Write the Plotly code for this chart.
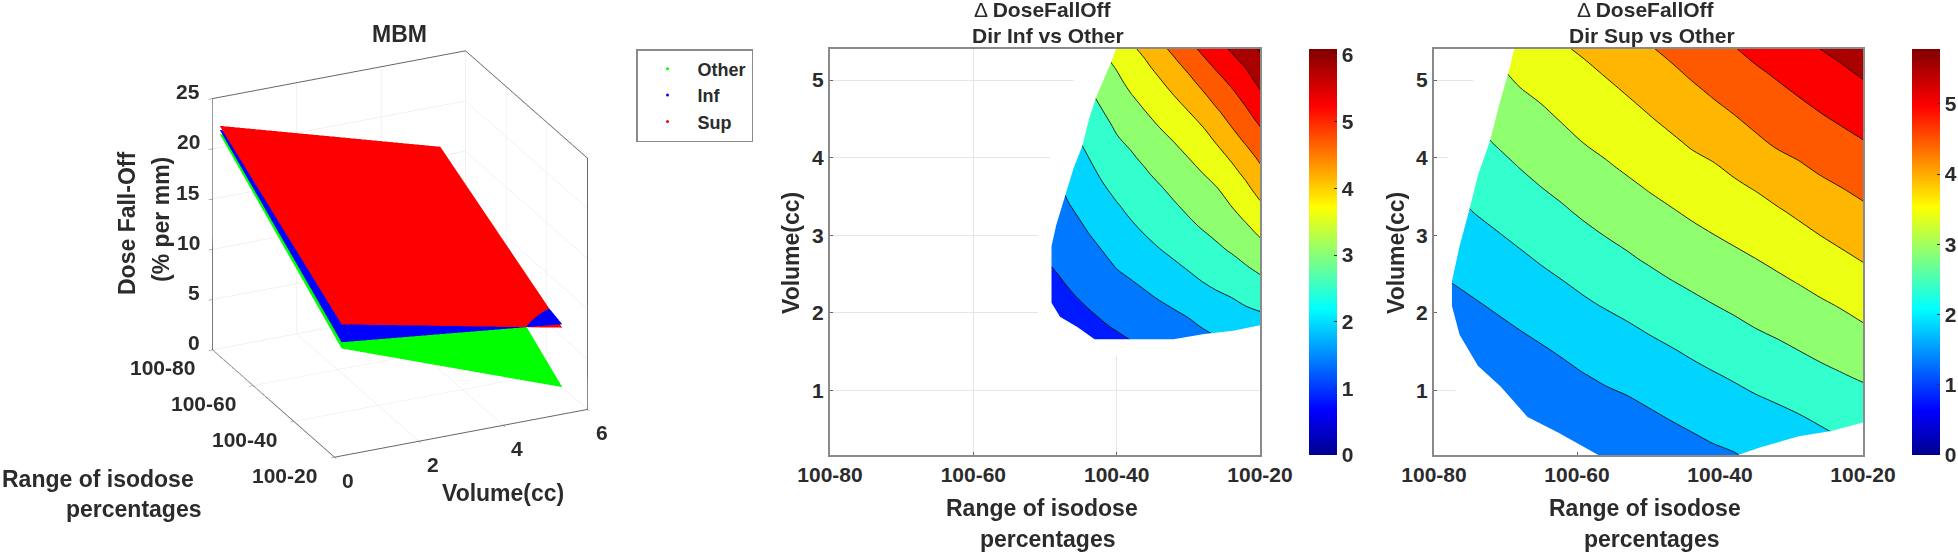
import plotly.graph_objects as go

W, H = 1958, 552
_ = None

# ---------- data ----------
iso_ticks = [80, 60, 40, 20]
iso_labels = ["100-80", "100-60", "100-40", "100-20"]
volume_ticks = [0, 2, 4, 6]
dose_ticks = [0, 5, 10, 15, 20, 25]

surf_volume = [0.17, 5.4]
surf_iso = [80, 20]
other_z = [[21.35, 12.5], [10.68, 2.69]]
inf_z = [[21.77, 13.0], [11.3, 8.95]]
sup_z = [[22.16, 15.93], [13.08, 8.6]]

inf_iso = [50, 48, 46, 44, 42, 40, 38, 36, 34, 32, 30, 28, 26, 24, 22, 20]
inf_vol = [5.4, 5.2, 5.0, 4.8, 4.6, 4.4, 4.2, 4.0, 3.8, 3.6, 3.4, 3.2, 3.0, 2.8, 2.6, 2.4, 2.2, 2.0, 1.8, 1.6]
inf_by_iso = [
    [_]*10 + [1.78, 1.7, 1.62, 1.54, 1.46, 1.38, 1.3, 1.22, 1.14] + [_],
    [_]*7 + [2.17, 2.08, 1.99, 1.9, 1.81, 1.72, 1.64, 1.55, 1.47, 1.38, 1.3, 1.21, 1.13],
    [_]*4 + [2.61, 2.51, 2.41, 2.31, 2.22, 2.12, 2.04, 1.94, 1.85, 1.76, 1.66, 1.57, 1.48, 1.4, 1.33, 1.25],
    [_] + [3.15, 3.04, 2.93, 2.82, 2.71, 2.6, 2.49, 2.39, 2.29, 2.18, 2.08, 1.98, 1.88, 1.77, 1.67, 1.57, 1.47, 1.37, 1.27],
    [3.5, 3.38, 3.24, 3.1, 2.99, 2.88, 2.77, 2.67, 2.56, 2.45, 2.34, 2.22, 2.11, 2.0, 1.89, 1.78, 1.67, 1.55, 1.45, 1.35],
    [3.73, 3.55, 3.42, 3.3, 3.2, 3.05, 2.95, 2.82, 2.71, 2.6, 2.48, 2.36, 2.24, 2.14, 2.02, 1.9, 1.77, 1.65, 1.52, 1.4],
    [3.93, 3.78, 3.63, 3.48, 3.34, 3.2, 3.06, 2.95, 2.84, 2.72, 2.61, 2.5, 2.37, 2.25, 2.11, 1.98, 1.86, 1.73, 1.6, 1.47],
    [4.1, 3.95, 3.8, 3.65, 3.5, 3.36, 3.23, 3.08, 2.96, 2.84, 2.72, 2.61, 2.5, 2.35, 2.22, 2.07, 1.94, 1.8, 1.67, 1.54],
    [4.38, 4.15, 3.98, 3.83, 3.67, 3.51, 3.37, 3.23, 3.1, 2.96, 2.85, 2.73, 2.61, 2.48, 2.33, 2.18, 2.03, 1.88, 1.73, 1.58],
    [4.6, 4.4, 4.17, 4.0, 3.83, 3.66, 3.5, 3.37, 3.23, 3.1, 2.97, 2.84, 2.71, 2.58, 2.44, 2.29, 2.13, 1.96, 1.82, 1.68],
    [4.85, 4.62, 4.41, 4.17, 4.0, 3.83, 3.67, 3.5, 3.36, 3.23, 3.1, 2.97, 2.83, 2.68, 2.54, 2.4, 2.22, 2.05, 1.89, 1.73],
    [5.09, 4.87, 4.65, 4.43, 4.2, 4.0, 3.83, 3.67, 3.5, 3.36, 3.23, 3.1, 2.95, 2.8, 2.65, 2.5, 2.34, 2.17, 2.0, 1.84],
    [5.33, 5.1, 4.88, 4.67, 4.46, 4.2, 4.03, 3.85, 3.68, 3.48, 3.35, 3.2, 3.06, 2.92, 2.75, 2.59, 2.43, 2.26, 2.09, 1.92],
    [5.55, 5.33, 5.1, 4.89, 4.68, 4.5, 4.28, 4.05, 3.87, 3.7, 3.52, 3.36, 3.2, 3.03, 2.85, 2.68, 2.5, 2.34, 2.18, 2.02],
    [5.76, 5.55, 5.34, 5.14, 4.94, 4.74, 4.54, 4.3, 4.09, 3.9, 3.73, 3.53, 3.35, 3.16, 2.98, 2.8, 2.6, 2.42, 2.25, 2.07],
    [6.05, 5.84, 5.63, 5.42, 5.21, 5.0, 4.79, 4.58, 4.37, 4.16, 3.95, 3.74, 3.53, 3.32, 3.11, 2.9, 2.69, 2.48, 2.27, 2.06],
]
# white (non-significant) region bordering the coloured area
inf_blank_iso = [40.12, 40.12, 40.82, 42.91, 43.88, 44.79, 46.03, 47.2, 48.44, 49.09, 49.09, 47.91, 45.49, 43.08,
                 32.07, 27.78, 23.75, 20, 19, 19, 49, 51, 51, 49, 47, 45, 43]
inf_blank_vol = [5.5, 5.4, 5.22, 4.77, 4.49, 4.15, 3.86, 3.52, 3.13, 2.86, 2.13, 1.95, 1.82, 1.66,
                 1.66, 1.73, 1.77, 1.84, 1.84, 1.45, 1.45, 1.7, 3.5, 4.1, 4.7, 5.3, 5.5]

sup_iso = [80, 77, 74, 71, 68, 65, 62, 59, 56, 53, 50, 47, 44, 41, 38, 35, 32, 29, 26, 23, 20]
sup_vol = [5.4, 5.1, 4.8, 4.5, 4.2, 3.9, 3.6, 3.3, 3.0, 2.7, 2.4, 2.1, 1.8, 1.5, 1.2, 0.9, 0.6, 0.3, 0.17]
sup_by_iso = [
    [_]*9 + [2.07, 1.94, 1.81, 1.67] + [_]*6,
    [_]*5 + [2.67, 2.54, 2.41, 2.28, 2.15, 2.02, 1.89, 1.76, 1.63, 1.5] + [_]*4,
    [_]*2 + [3.17, 3.04, 2.91, 2.78, 2.65, 2.52, 2.38, 2.24, 2.11, 1.97, 1.83, 1.7, 1.57, 1.44] + [_]*3,
    [3.59, 3.45, 3.31, 3.17, 3.04, 2.89, 2.76, 2.62, 2.48, 2.34, 2.2, 2.06, 1.92, 1.78, 1.64, 1.5, 1.37] + [_]*2,
    [3.74, 3.59, 3.45, 3.3, 3.16, 3.02, 2.87, 2.71, 2.58, 2.44, 2.29, 2.15, 2.01, 1.86, 1.72, 1.58, 1.44, 1.3, _],
    [3.84, 3.69, 3.55, 3.41, 3.28, 3.13, 2.99, 2.84, 2.69, 2.54, 2.4, 2.25, 2.1, 1.95, 1.82, 1.68, 1.54, 1.4, _],
    [3.96, 3.81, 3.67, 3.53, 3.39, 3.26, 3.09, 2.95, 2.8, 2.64, 2.49, 2.34, 2.19, 2.04, 1.9, 1.76, 1.62, 1.48, 1.42],
    [4.06, 3.92, 3.78, 3.64, 3.51, 3.36, 3.21, 3.06, 2.91, 2.75, 2.59, 2.44, 2.28, 2.13, 1.99, 1.85, 1.72, 1.58, 1.52],
    [4.19, 4.03, 3.89, 3.75, 3.61, 3.46, 3.33, 3.16, 3.01, 2.85, 2.68, 2.53, 2.36, 2.21, 2.06, 1.93, 1.79, 1.66, 1.6],
    [4.33, 4.16, 4.0, 3.86, 3.71, 3.57, 3.41, 3.25, 3.1, 2.95, 2.78, 2.61, 2.45, 2.3, 2.14, 1.98, 1.85, 1.72, 1.65],
    [4.46, 4.29, 4.12, 3.97, 3.82, 3.66, 3.52, 3.36, 3.2, 3.05, 2.88, 2.72, 2.54, 2.38, 2.22, 2.06, 1.91, 1.76, 1.7],
    [4.59, 4.42, 4.25, 4.09, 3.93, 3.77, 3.62, 3.46, 3.3, 3.15, 2.98, 2.8, 2.63, 2.46, 2.3, 2.15, 1.99, 1.84, 1.78],
    [4.73, 4.56, 4.39, 4.23, 4.05, 3.89, 3.72, 3.56, 3.4, 3.23, 3.07, 2.9, 2.73, 2.55, 2.39, 2.23, 2.07, 1.91, 1.84],
    [4.86, 4.69, 4.52, 4.35, 4.16, 3.97, 3.81, 3.65, 3.49, 3.32, 3.16, 2.99, 2.82, 2.64, 2.47, 2.32, 2.15, 1.99, 1.91],
    [4.98, 4.81, 4.64, 4.47, 4.28, 4.09, 3.92, 3.75, 3.58, 3.41, 3.25, 3.08, 2.9, 2.73, 2.55, 2.39, 2.22, 2.05, 1.98],
    [5.12, 4.94, 4.76, 4.6, 4.43, 4.22, 4.02, 3.84, 3.66, 3.5, 3.33, 3.17, 3.0, 2.82, 2.64, 2.47, 2.31, 2.14, 2.07],
    [5.24, 5.06, 4.89, 4.72, 4.56, 4.36, 4.15, 3.95, 3.78, 3.6, 3.42, 3.25, 3.08, 2.9, 2.72, 2.54, 2.37, 2.2, 2.13],
    [5.37, 5.19, 5.01, 4.83, 4.65, 4.46, 4.27, 4.07, 3.88, 3.7, 3.52, 3.33, 3.17, 2.99, 2.81, 2.62, 2.44, 2.27, 2.2],
    [5.5, 5.32, 5.13, 4.95, 4.77, 4.58, 4.39, 4.2, 4.0, 3.81, 3.62, 3.44, 3.26, 3.08, 2.9, 2.73, 2.53, 2.36, 2.28],
    [5.62, 5.43, 5.24, 5.06, 4.87, 4.68, 4.49, 4.3, 4.11, 3.92, 3.73, 3.53, 3.36, 3.16, 2.98, 2.8, 2.62, 2.44, 2.36],
    [5.75, 5.56, 5.36, 5.17, 4.98, 4.79, 4.6, 4.41, 4.21, 4.03, 3.84, 3.65, 3.45, 3.26, 3.06, 2.87, 2.68, 2.49, 2.41],
]
sup_blank_left_iso = [68.78, 68.78, 69.58, 70.92, 72.15, 73.86, 75.03, 76.42, 77.49, 77.49, 76.42, 73.86, 70.65, 66.91,
                      62.64, 58.9, 57.02, 57.02, 63, 69, 72, 75, 78, 81, 81, 78, 75, 72]
sup_blank_left_vol = [5.5, 5.4, 5.1, 4.67, 4.22, 3.77, 3.34, 2.86, 2.41, 2.09, 1.72, 1.32, 1.05, 0.66,
                      0.46, 0.27, 0.17, 0.1, 0.1, 0.2, 0.5, 0.8, 1.1, 1.7, 2.8, 4.0, 4.9, 5.5]
sup_blank_right_iso = [37.52, 34.31, 28.97, 24.43, 20, 19, 19, 37.52]
sup_blank_right_vol = [0.17, 0.27, 0.41, 0.48, 0.59, 0.59, 0.1, 0.1]

inf_cmax, sup_cmax = 6.09, 5.78
contour_levels = dict(start=0, end=6, size=0.5)

# ---------- styling helpers ----------
FONT = "Liberation Sans"
TXT = "#2b2b2b"
AX = "#8a8a8a"
GRID = "#e6e6e6"
JET = [[0, "rgb(0,0,143)"], [0.11, "rgb(0,0,255)"], [0.36, "rgb(0,255,255)"],
       [0.61, "rgb(255,255,0)"], [0.86, "rgb(255,0,0)"], [1, "rgb(128,0,0)"]]
BOLD = dict(family=FONT, size=21, color=TXT, weight="bold")


def transpose(cols):
    return [list(r) for r in zip(*cols)]


def fx(p):
    return p / W


def fy(p):
    return 1 - p / H


def flat(c):
    return [[0, c], [1, c]]


fig = go.Figure()

# ---------- 3D panel ----------
light = dict(ambient=1, diffuse=0, specular=0, roughness=1, fresnel=0)
for z, c in ((other_z, "#00ff00"), (inf_z, "#0000ff"), (sup_z, "#ff0000")):
    fig.add_trace(go.Surface(x=surf_volume, y=surf_iso, z=z, colorscale=flat(c), showscale=False,
                             lighting=light, hoverinfo="skip", scene="scene"))

ax3 = dict(showbackground=False, gridcolor=GRID, gridwidth=1, showline=True, linecolor="#666666", linewidth=2,
           mirror=True, zeroline=False, title=dict(text=""), showspikes=False, ticks="outside", ticklen=4,
           tickcolor="#666666", showticklabels=False)


def tick3(x, y, z, text, anchor, dx, dy):
    return dict(x=x, y=y, z=z, text="<b>%s</b>" % text, showarrow=False, xanchor=anchor, yanchor="middle",
                xshift=dx, yshift=dy, font=dict(family=FONT, size=21, color=TXT))


scene_ticks = (
    [tick3(0, 80, d, str(d), "right", -10, 7) for d in dose_ticks]
    + [tick3(0, i, 0, t, "right", -15, -18) for i, t in zip(iso_ticks, iso_labels)]
    + [tick3(v, 20, 0, str(v), "center", 14, -23) for v in volume_ticks]
)

eye_r = 1.4
fig.update_layout(scene=dict(
    domain=dict(x=[fx(100), fx(700)], y=[fy(508), fy(0)]),
    xaxis=dict(ax3, range=[0, 6], tickvals=volume_ticks),
    yaxis=dict(ax3, range=[20, 80], tickvals=iso_ticks),
    zaxis=dict(ax3, range=[0, 25], tickvals=dose_ticks),
    aspectmode="manual", aspectratio=dict(x=1.098, y=1.143, z=1.083),
    annotations=scene_ticks,
    camera=dict(projection=dict(type="orthographic"), up=dict(x=0, y=0, z=1),
                center=dict(x=0, y=0, z=0), eye=dict(x=-0.384 * eye_r, y=-0.829 * eye_r, z=0.408 * eye_r)),
))

# legend entries
for name, c in (("Other", "#00ff00"), ("Inf", "#0000ff"), ("Sup", "#ff0000")):
    fig.add_trace(go.Scatter(x=[None], y=[None], mode="markers", name=name, legendgroup=name,
                             marker=dict(color=c, size=3), xaxis="x", yaxis="y"))


# ---------- contour panels ----------
def panel(xa, ya, x, y, cols, cmax, blanks, left, right, cb_left):
    xn, yn = "x" + xa[5:], "y" + ya[5:]
    fig.add_trace(go.Contour(x=x, y=y, z=transpose(cols), xaxis=xn, yaxis=yn, zmin=0.5, zmax=cmax + 0.5,
                             colorscale=JET, showscale=False, connectgaps=False, autocontour=False,
                             contours=dict(contour_levels, coloring="fill", showlines=True), showlegend=False,
                             line=dict(color="#111111", width=0.9, smoothing=1.0), hoverinfo="skip"))
    for bx, by in blanks:
        fig.add_trace(go.Scatter(x=bx, y=by, xaxis=xn, yaxis=yn, mode="lines", fill="toself", fillcolor="white",
                                 line=dict(width=0, color="white"), showlegend=False, hoverinfo="skip"))
    # colour-bar carrier: sits outside the axis range, only its colour bar shows
    fig.add_trace(go.Heatmap(x=[100, 101], y=[y[0], y[-1]], z=[[0, cmax], [0, cmax]], xaxis=xn, yaxis=yn,
                             zmin=0, zmax=cmax, colorscale=JET, hoverinfo="skip",
                             colorbar=dict(x=fx(cb_left), xanchor="left", y=fy(49), yanchor="top", lenmode="pixels",
                                           len=406, thicknessmode="pixels", thickness=28, xpad=0, ypad=0,
                                           outlinewidth=0, tickmode="array", tickvals=[0, 1, 2, 3, 4, 5, 6],
                                           ticks="inside", ticklen=3, tickcolor="#333333", tickfont=BOLD)))
    common = dict(showline=True, linecolor=AX, linewidth=2, mirror=True, showgrid=True, gridcolor=GRID, gridwidth=1,
                  zeroline=False, ticks="inside", ticklen=3, tickcolor="#666666", tickfont=BOLD)
    fig.update_layout({
        xa: dict(common, domain=[fx(left), fx(right)], range=[80, 20], tickvals=iso_ticks, ticktext=iso_labels,
                 anchor=yn),
        ya: dict(common, domain=[fy(455), fy(49)], range=[0.17, 5.4], tickvals=[1, 2, 3, 4, 5], anchor=xn),
    })


fig.update_layout(xaxis=dict(visible=False, domain=[0, 0.01]), yaxis=dict(visible=False, domain=[0, 0.01]))
panel("xaxis2", "yaxis2", inf_iso, inf_vol, inf_by_iso, inf_cmax, [(inf_blank_iso, inf_blank_vol)], 830, 1260, 1309)
panel("xaxis3", "yaxis3", sup_iso, sup_vol, sup_by_iso, sup_cmax,
      [(sup_blank_left_iso, sup_blank_left_vol), (sup_blank_right_iso, sup_blank_right_vol)], 1434, 1863, 1912)

# ---------- text ----------
texts = [
    ("<b>MBM</b>", 399, 34, 23, 0), ("<b>Dose Fall-Off</b>", 127, 224, 23, -90), ("<b>(% per mm)</b>", 161, 220, 23, -90),
    ("<b>Range of isodose</b>", 98, 479, 23, 0), ("<b>percentages</b>", 134, 509, 23, 0), ("<b>Volume(cc)</b>", 503, 493, 23, 0),
    ("Δ <b>DoseFallOff</b>", 1043, 10, 21, 0), ("<b>Dir Inf vs Other</b>", 1048, 36, 21, 0),
    ("<b>Range of isodose</b>", 1042, 508, 23, 0), ("<b>percentages</b>", 1048, 539, 23, 0), ("<b>Volume(cc)</b>", 791, 253, 23, -90),
    ("Δ <b>DoseFallOff</b>", 1646, 10, 21, 0), ("<b>Dir Sup vs Other</b>", 1652, 36, 21, 0),
    ("<b>Range of isodose</b>", 1645, 508, 23, 0), ("<b>percentages</b>", 1652, 539, 23, 0), ("<b>Volume(cc)</b>", 1396, 253, 23, -90),
]
fig.update_layout(annotations=[
    dict(text=t, x=fx(x), y=fy(y), xref="paper", yref="paper", xanchor="center", yanchor="middle",
         showarrow=False, textangle=a, font=dict(family=FONT, size=s, color=TXT))
    for t, x, y, s, a in texts
])

fig.update_layout(
    width=W, height=H, margin=dict(l=0, r=0, t=0, b=0, autoexpand=False), paper_bgcolor="white", plot_bgcolor="white",
    showlegend=True,
    legend=dict(x=fx(636), y=fy(49), xanchor="left", yanchor="top", bgcolor="white", bordercolor="#8a8a8a",
                borderwidth=1.5, tracegroupgap=0, itemwidth=50,
                font=dict(family=FONT, size=18, color=TXT, weight="bold")),
)

fig.write_html("out.html", config=dict(displayModeBar=False),
               post_script="document.body.style.margin='0';")
